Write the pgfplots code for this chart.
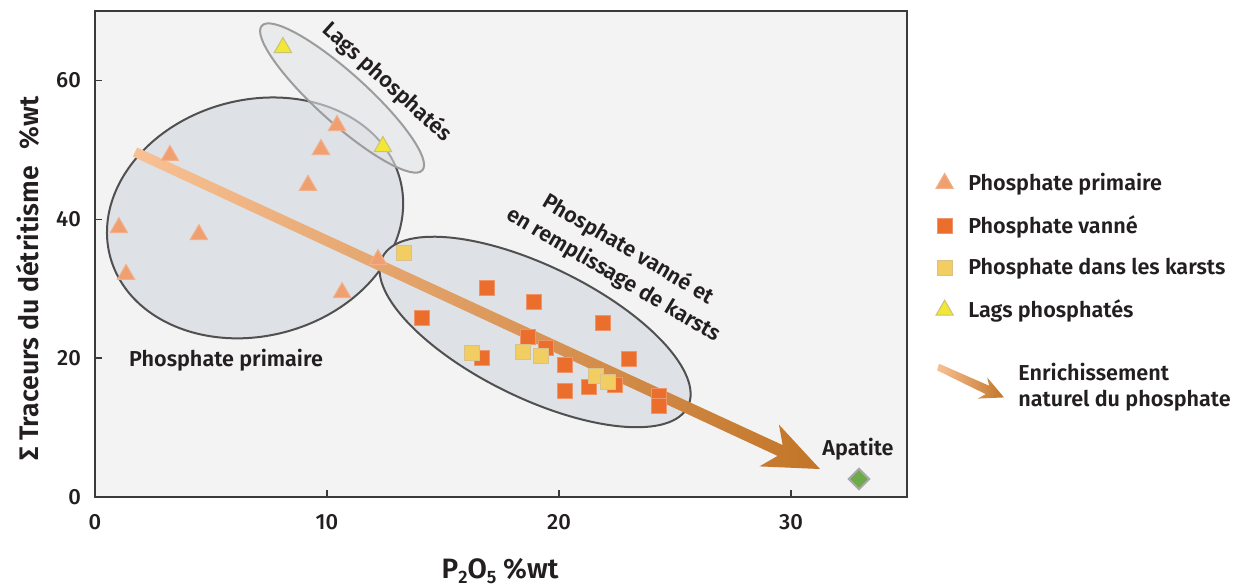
\documentclass[border=0pt]{standalone}
\usepackage{pgfplots}
\pgfplotsset{compat=1.18}
\usepackage{fontspec}
\setmainfont{Fira Sans}[UprightFont={* Medium}, BoldFont={* SemiBold}]
\definecolor{bgcol}{HTML}{F3F3F3}
\definecolor{axiscol}{HTML}{3A3A3A}
\definecolor{textcol}{HTML}{231F20}
\definecolor{primfill}{HTML}{F0A070}
\definecolor{primdraw}{HTML}{F2B08A}
\definecolor{lagsfill}{HTML}{F1E734}
\definecolor{lagsdraw}{HTML}{C8C27A}
\definecolor{vannefill}{HTML}{EC6E2C}
\definecolor{vannedraw}{HTML}{F0956A}
\definecolor{karstfill}{HTML}{F2CD61}
\definecolor{karstdraw}{HTML}{D9C189}
\definecolor{apatfill}{HTML}{6DAA4A}
\definecolor{apatdraw}{HTML}{A8A8A8}
\definecolor{ellfill}{HTML}{DEE1E5}
\definecolor{elldraw}{HTML}{505050}
\definecolor{lagellfill}{HTML}{E2E4E7}
\definecolor{lagelldraw}{HTML}{9C9C9C}
\definecolor{arrA}{HTML}{F8C195}
\definecolor{arrM}{HTML}{E39A55}
\definecolor{arrB}{HTML}{C27528}
\newcommand{\lab}{\fontsize{10.8}{14.5}\selectfont\bfseries}
\begin{document}
\begin{tikzpicture}
\begin{axis}[
  at={(0pt,0pt)}, anchor=south west,
  scale only axis, width=406pt, height=243pt,
  xmin=0, xmax=35, ymin=0, ymax=70,
  xtick={0,10,20,30}, ytick={0,20,40,60},
  tick pos=left,
  tick align=inside, major tick length=3.5pt,
  tick style={color=axiscol, line width=0.75pt},
  axis line style={color=axiscol, line width=0.75pt},
  axis background/.style={fill=bgcol},
  tick label style={font=\fontsize{11}{13}\selectfont, text=textcol},
  /pgf/number format/assume math mode=true,
  xticklabel style={yshift=-5pt},
  yticklabel style={xshift=-3.5pt},
  xlabel={P{\fontsize{9}{9}\selectfont\raisebox{-2.5pt}{2}}O{\fontsize{9}{9}\selectfont\raisebox{-2.5pt}{5}} \%wt},
  xlabel style={at={(axis description cs:0.4988,-0.1675)}, anchor=base, font=\fontsize{14}{16}\selectfont\bfseries, text=textcol},
  ylabel={Σ Traceurs du détritisme\hspace{0.6em}\%wt},
  ylabel style={at={(axis description cs:-0.069,0.449)}, anchor=base, rotate=0, font=\fontsize{13.4}{15}\selectfont\bfseries, text=textcol},
  legend style={at={(axis description cs:1.0357,0.6745)}, anchor=north west, draw=none, fill=none,
    inner sep=0pt, outer sep=0pt, row sep=7pt, font=\lab, text=textcol,
    /tikz/every odd column/.append style={column sep=5.5pt}},
  legend cell align=left,
  legend image code/.code={\draw[#1] plot coordinates {(0pt,0pt)};},
]
% ellipses
\draw[fill=ellfill, draw=elldraw, line width=1pt, shift={(axis cs:6.90,40.2)}, rotate=15] (0pt,0pt) ellipse [x radius=75pt, y radius=59pt];
\draw[fill=ellfill, draw=elldraw, line width=1pt, shift={(axis cs:18.97,23.77)}, rotate=-26] (0pt,0pt) ellipse [x radius=85pt, y radius=33pt];
\draw[fill=lagellfill, fill opacity=0.6, draw=lagelldraw, line width=1pt, shift={(axis cs:10.65,57.47)}, rotate=-42] (0pt,0pt) ellipse [x radius=54pt, y radius=12.5pt];
% enrichment arrow
\shade[left color=arrA, middle color=arrM, right color=arrB]
  (axis cs:1.815,50.34) -- (axis cs:29.64,7.48) -- (axis cs:29.48,10.43) -- (axis cs:31.25,4.03)
  -- (axis cs:28.64,4.41) -- (axis cs:29.42,5.92) -- (axis cs:1.634,49.04) -- cycle;
% labels
\node[rotate=-42, font=\lab, text=textcol] at (axis cs:12.59,59.77) {Lags phosphatés};
\node[font=\lab, text=textcol] at (axis cs:5.65,19.73) {Phosphate primaire};
\node[rotate=-30.5, align=center, font=\lab, text=textcol] at (axis cs:22.67,33.85) {Phosphate vanné et\\en remplissage de karsts};
\node[font=\lab, text=textcol] at (axis cs:32.89,6.91) {Apatite};
% data
\addplot[only marks, mark=triangle*, mark size=5pt, mark options={fill=primfill, draw=primdraw, line width=0.5pt}]
  coordinates {(3.23,49.2) (10.43,53.5) (9.74,50.05) (9.18,44.9) (1.03,38.8) (4.48,37.8) (1.34,32.05) (12.2,34.2) (10.65,29.45)};
\addlegendentry{Phosphate primaire}
\addplot[only marks, mark=square*, mark size=3.75pt, mark options={fill=vannefill, draw=vannedraw, line width=0.5pt}]
  coordinates {(16.90,30.10) (14.09,25.78) (18.92,28.09) (21.90,25.06) (18.66,23.04) (19.44,21.46) (16.68,20.02)
  (20.26,19.01) (23.02,19.88) (20.26,15.27) (21.29,15.84) (22.41,16.13) (24.31,14.55) (24.31,13.11)};
\addlegendentry{Phosphate vanné}
\addplot[only marks, mark=square*, mark size=3.75pt, mark options={fill=karstfill, draw=karstdraw, line width=0.5pt}]
  coordinates {(13.32,35.14) (16.25,20.74) (18.45,20.88) (19.22,20.31) (21.59,17.43) (22.11,16.56)};
\addlegendentry{Phosphate dans les karsts}
\addplot[only marks, mark=triangle*, mark size=5pt, mark options={fill=lagsfill, draw=lagsdraw, line width=0.5pt}]
  coordinates {(8.10,64.74) (12.41,50.48)};
\addlegendentry{Lags phosphatés}
\addplot[only marks, forget plot, mark=square*, mark size=3.6pt, mark options={rotate=45, fill=apatfill, draw=apatdraw, line width=1pt}]
  coordinates {(32.93,2.59)};
\end{axis}
% legend arrow
\shade[left color=arrA, right color=arrB]
  (422.0pt,66.65pt) -- (447.05pt,55.65pt) -- (446.1pt,59.8pt) -- (454.5pt,49.8pt)
  -- (441.4pt,49.2pt) -- (445.3pt,51.45pt) -- (421.0pt,63.35pt) -- cycle;
\node[anchor=base west, align=left, inner sep=0pt, font=\fontsize{10.8}{13}\selectfont\bfseries, text=textcol] at (461.5pt,45.5pt) {Enrichissement\\naturel du phosphate};
\pgfresetboundingbox
\path[use as bounding box] (-47.5pt,-44.5pt) rectangle (571pt,248.5pt);
\end{tikzpicture}
\end{document}
